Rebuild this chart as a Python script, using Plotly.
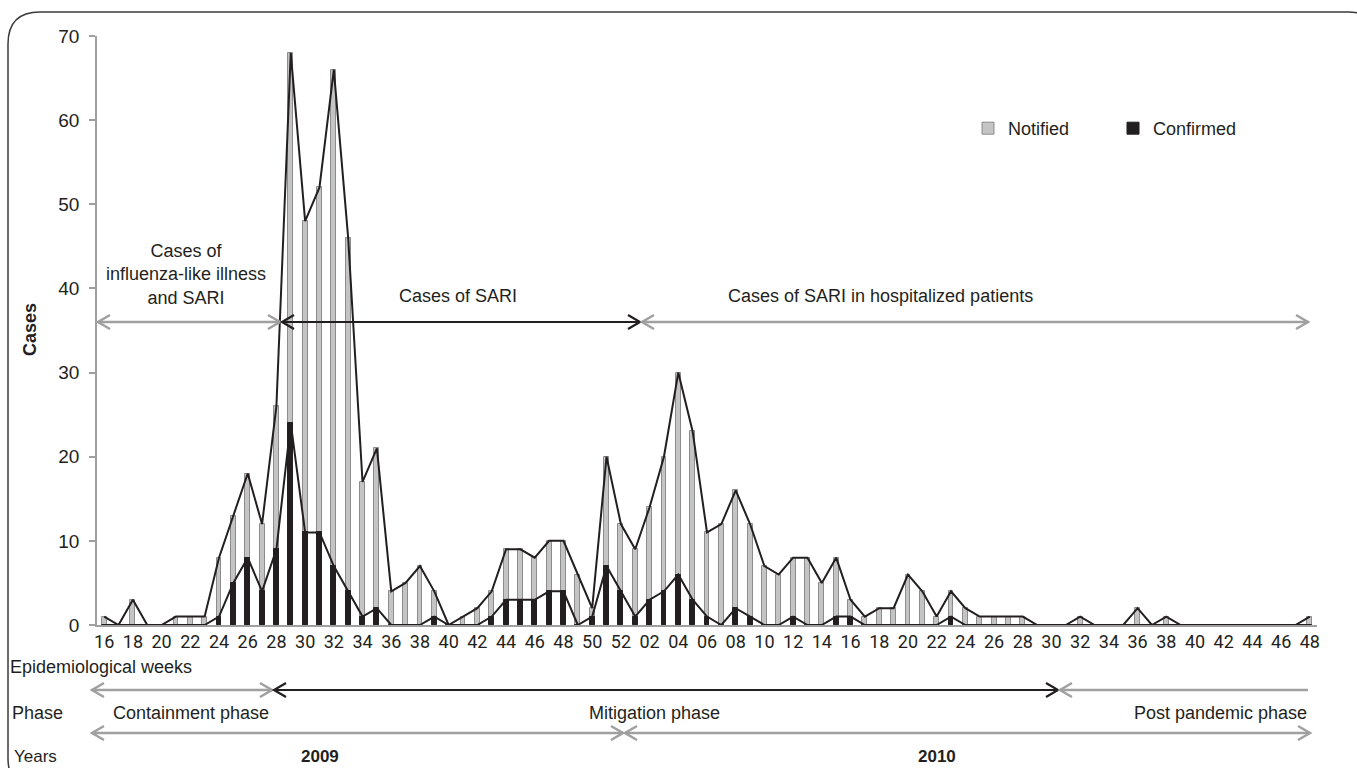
import plotly.graph_objects as go

# ---------------- data ----------------
weeks = ["16", "17", "18", "19", "20", "21", "22", "23", "24", "25", "26", "27", "28", "29", "30",
         "31", "32", "33", "34", "35", "36", "37", "38", "39", "40", "41", "42", "43", "44", "45",
         "46", "47", "48", "49", "50", "51", "52",
         "01", "02", "03", "04", "05", "06", "07", "08", "09", "10", "11", "12", "13", "14", "15",
         "16", "17", "18", "19", "20", "21", "22", "23", "24", "25", "26", "27", "28", "29", "30",
         "31", "32", "33", "34", "35", "36", "37", "38", "39", "40", "41", "42", "43", "44", "45",
         "46", "47", "48"]

notified = [1, 0, 3, 0, 0, 1, 1, 1, 8, 13, 18, 12, 26, 68, 48,
            52, 66, 46, 17, 21, 4, 5, 7, 4, 0, 1, 2, 4, 9, 9,
            8, 10, 10, 6, 2, 20, 12,
            9, 14, 20, 30, 23, 11, 12, 16, 12, 7, 6, 8, 8, 5, 8,
            3, 1, 2, 2, 6, 4, 1, 4, 2, 1, 1, 1, 1, 0, 0,
            0, 1, 0, 0, 0, 2, 0, 1, 0, 0, 0, 0, 0, 0, 0,
            0, 0, 1]

confirmed = [0, 0, 0, 0, 0, 0, 0, 0, 1, 5, 8, 4, 9, 24, 11,
             11, 7, 4, 1, 2, 0, 0, 0, 1, 0, 0, 0, 1, 3, 3,
             3, 4, 4, 0, 1, 7, 4,
             1, 3, 4, 6, 3, 1, 0, 2, 1, 0, 0, 1, 0, 0, 1,
             1, 0, 0, 0, 0, 0, 0, 1, 0, 0, 0, 0, 0, 0, 0,
             0, 0, 0, 0, 0, 0, 0, 0, 0, 0, 0, 0, 0, 0, 0,
             0, 0, 0]

tick_labels = weeks[::2]

# ---------------- layout helpers ----------------
FW, FH = 1357, 768
L, R, T, B = 97, 1317, 36, 625
PW, PH = R - L, B - T

def px(x):
    return (x - L) / PW

def py(y):
    return (B - y) / PH

xs = list(range(len(weeks)))

fig = go.Figure()
fig.add_trace(go.Bar(x=xs, y=notified, name="Notified", width=0.34,
                     marker=dict(color="#c4c4c4", line=dict(color="#8c8c8c", width=1))))
fig.add_trace(go.Bar(x=xs, y=confirmed, name="Confirmed", width=0.34,
                     marker=dict(color="#231f20", line=dict(color="#231f20", width=1))))
fig.add_trace(go.Scatter(x=xs, y=notified, mode="lines", showlegend=False,
                         line=dict(color="#231f20", width=2)))
fig.add_trace(go.Scatter(x=xs, y=confirmed, mode="lines", showlegend=False,
                         line=dict(color="#231f20", width=2)))

GRAY = "#a0a0a0"
BLACK = "#231f20"
shapes = []

def arrow(x0, x1, y, color, width, left=True, right=True):
    shapes.append(dict(type="line", xref="paper", yref="paper",
                       x0=px(x0), x1=px(x1), y0=py(y), y1=py(y),
                       line=dict(color=color, width=width)))
    hx, hy = 12, 7
    if left:
        p = f"M {px(x0 + hx)},{py(y - hy)} L {px(x0)},{py(y)} L {px(x0 + hx)},{py(y + hy)}"
        shapes.append(dict(type="path", xref="paper", yref="paper", path=p,
                           line=dict(color=color, width=width)))
    if right:
        p = f"M {px(x1 - hx)},{py(y - hy)} L {px(x1)},{py(y)} L {px(x1 - hx)},{py(y + hy)}"
        shapes.append(dict(type="path", xref="paper", yref="paper", path=p,
                           line=dict(color=color, width=width)))

# arrows inside plot
arrow(98, 280, 322, GRAY, 2.5)
arrow(282, 640, 322, BLACK, 2.2)
arrow(642, 1308, 322, GRAY, 2.5)
# phase arrows
arrow(92, 272, 690, GRAY, 2.5)
arrow(274, 1058, 690, BLACK, 2.2)
arrow(1060, 1308, 690, GRAY, 2.5, right=False)
# years arrows
arrow(92, 623, 733, GRAY, 2.5)
arrow(625, 1310, 733, GRAY, 2.5)

# rounded border
rx0, ry0, rx1, ry1, rr = 8, 12, 1380, 790, 32
border = (f"M {px(rx0)},{py(ry0 + rr)} Q {px(rx0)},{py(ry0)} {px(rx0 + rr)},{py(ry0)} "
          f"L {px(rx1 - rr)},{py(ry0)} Q {px(rx1)},{py(ry0)} {px(rx1)},{py(ry0 + rr)} "
          f"L {px(rx1)},{py(ry1 - rr)} Q {px(rx1)},{py(ry1)} {px(rx1 - rr)},{py(ry1)} "
          f"L {px(rx0 + rr)},{py(ry1)} Q {px(rx0)},{py(ry1)} {px(rx0)},{py(ry1 - rr)} Z")
shapes.append(dict(type="path", xref="paper", yref="paper", path=border,
                   line=dict(color="#3a3a3a", width=1.5), layer="below"))

FONT = "Liberation Sans, Arial, sans-serif"
TXT = "#231f20"
annotations = []

def text(s, x, y, anchor="center", size=18, bold=False, angle=0):
    annotations.append(dict(text=(f"<b>{s}</b>" if bold else s), xref="paper", yref="paper",
                            x=px(x), y=py(y), xanchor=anchor, yanchor="middle",
                            showarrow=False, textangle=angle,
                            font=dict(family=FONT, size=size, color=TXT)))

text("Cases", 30, 330, bold=True, angle=-90)
text("Cases of<br>influenza-like illness<br>and SARI", 186, 274)
text("Cases of SARI", 458, 296)
text("Cases of SARI in hospitalized patients", 880, 296)
text("Epidemiological weeks", 8, 667, anchor="left")
text("Phase", 10, 713, anchor="left")
text("Containment phase", 191, 713)
text("Mitigation phase", 654, 713)
text("Post pandemic phase", 1220, 713)
text("Years", 12, 756, anchor="left", size=17)
text("2009", 320, 757, bold=True, size=17)
text("2010", 937, 757, bold=True, size=17)

fig.update_layout(
    width=FW, height=FH,
    margin=dict(l=L, r=FW - R, t=T, b=FH - B, pad=0),
    paper_bgcolor="white", plot_bgcolor="white",
    barmode="overlay", bargap=0,
    font=dict(family=FONT, size=18, color=TXT),
    showlegend=True,
    legend=dict(orientation="h", x=px(968), y=py(110), xanchor="left", yanchor="top",
                font=dict(family=FONT, size=18, color=TXT), bgcolor="rgba(0,0,0,0)",
                entrywidth=100, entrywidthmode="pixels", traceorder="normal"),
    shapes=shapes, annotations=annotations,
    xaxis=dict(range=[-0.5, 84.5], tickmode="array", tickvals=xs[::2], ticktext=tick_labels,
               showline=True, linecolor=GRAY, linewidth=1.5, showgrid=False, zeroline=False,
               ticks="", tickfont=dict(family="Liberation Sans Narrow, Roboto, sans-serif",
                                       size=18, color=TXT)),
    yaxis=dict(range=[0, 70], dtick=10, showline=True, linecolor=GRAY, linewidth=1.5,
               ticks="outside", ticklen=6, tickcolor=GRAY, tickwidth=1.5,
               showgrid=False, zeroline=False, ticklabelstandoff=6,
               tickfont=dict(family=FONT, size=19, color=TXT)),
)

fig.write_html("out.html", config={"displayModeBar": False},
               post_script="document.body.style.margin='0';document.body.style.overflow='hidden';")
